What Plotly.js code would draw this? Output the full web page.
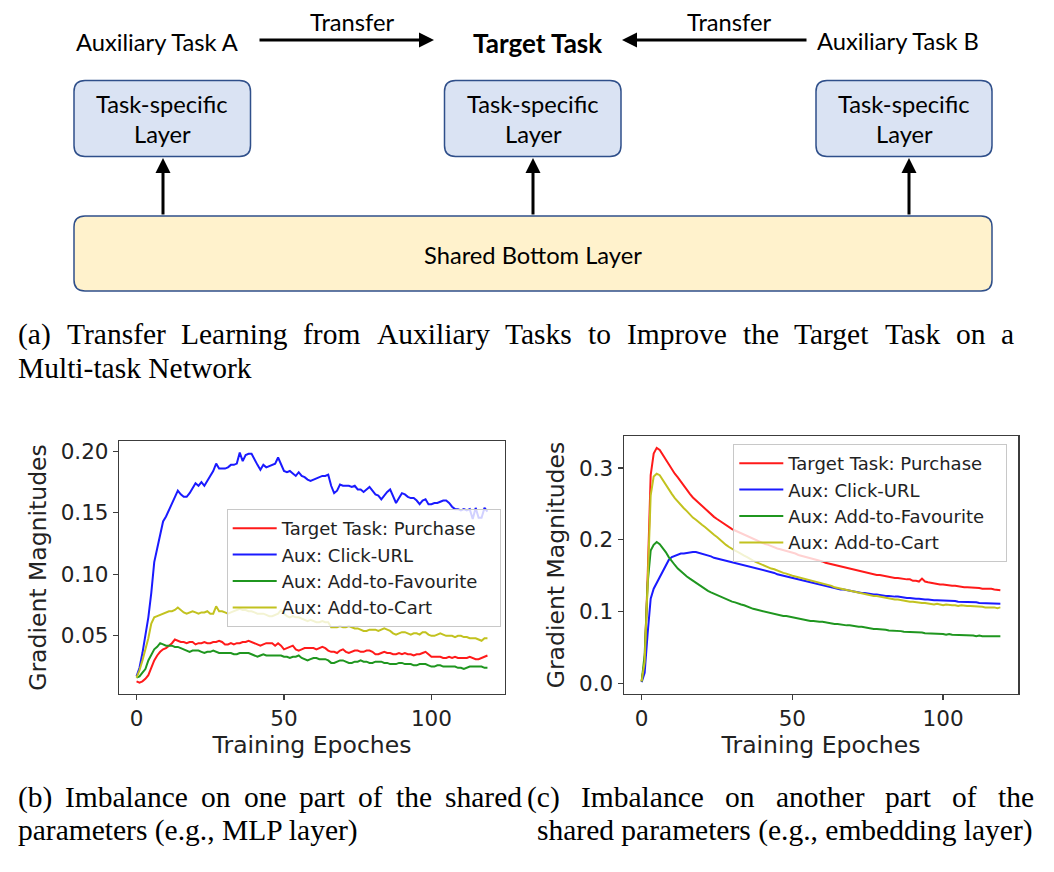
<!DOCTYPE html>
<html><head><meta charset="utf-8">
<script src="https://cdn.plot.ly/plotly-3.0.1.min.js"></script>
<style>html,body{margin:0;padding:0;background:#fff}#chart{width:1054px;height:872px}</style>
</head><body><div id="chart"></div>
<script>
// ---------------- DATA ----------------
const epochs = Array.from({length:120}, (_, i) => i);
const seriesNames = ['Target Task: Purchase', 'Aux: Click-URL', 'Aux: Add-to-Favourite', 'Aux: Add-to-Cart'];

// (b) MLP layer
const mlpPurchase = [0.013,0.012,0.013,0.015,0.018,0.024,0.030,0.034,0.037,0.039,
 0.040,0.042,0.044,0.047,0.046,0.045,0.045,0.044,0.045,0.045,
 0.043,0.044,0.044,0.045,0.044,0.044,0.045,0.045,0.046,0.045,
 0.043,0.043,0.044,0.043,0.044,0.044,0.045,0.045,0.046,0.045,
 0.044,0.043,0.042,0.043,0.044,0.044,0.044,0.042,0.044,0.042,
 0.039,0.040,0.041,0.042,0.039,0.038,0.039,0.040,0.040,0.040,
 0.040,0.039,0.040,0.041,0.040,0.038,0.037,0.037,0.036,0.038,
 0.039,0.037,0.036,0.037,0.038,0.038,0.037,0.037,0.038,0.038,
 0.037,0.035,0.035,0.036,0.037,0.036,0.036,0.035,0.035,0.036,
 0.035,0.036,0.035,0.035,0.034,0.035,0.035,0.036,0.037,0.035,
 0.033,0.033,0.033,0.033,0.032,0.032,0.033,0.032,0.033,0.032,
 0.032,0.032,0.032,0.033,0.032,0.031,0.031,0.032,0.033,0.034];
const mlpClickURL = [0.017,0.024,0.036,0.050,0.065,0.085,0.110,0.121,0.131,0.143,
 0.147,0.152,0.158,0.163,0.168,0.165,0.163,0.163,0.166,0.170,
 0.174,0.172,0.175,0.172,0.176,0.180,0.184,0.190,0.186,0.186,
 0.186,0.187,0.189,0.189,0.190,0.199,0.192,0.197,0.198,0.198,
 0.193,0.189,0.185,0.189,0.187,0.188,0.189,0.190,0.195,0.189,
 0.184,0.183,0.184,0.182,0.180,0.183,0.180,0.179,0.177,0.176,
 0.177,0.178,0.179,0.180,0.180,0.181,0.172,0.166,0.168,0.173,
 0.172,0.172,0.172,0.171,0.172,0.169,0.169,0.167,0.169,0.171,
 0.168,0.165,0.164,0.161,0.164,0.167,0.169,0.163,0.158,0.162,
 0.166,0.165,0.163,0.162,0.162,0.160,0.157,0.160,0.161,0.157,
 0.157,0.158,0.158,0.159,0.160,0.160,0.158,0.155,0.153,0.153,
 0.152,0.153,0.152,0.153,0.145,0.154,0.146,0.146,0.154,0.151];
const mlpFavourite = [0.016,0.017,0.020,0.023,0.030,0.035,0.039,0.041,0.044,0.043,
 0.042,0.042,0.042,0.041,0.041,0.040,0.039,0.038,0.037,0.038,
 0.038,0.038,0.037,0.036,0.037,0.037,0.038,0.037,0.036,0.036,
 0.036,0.036,0.036,0.035,0.035,0.036,0.036,0.036,0.036,0.035,
 0.034,0.033,0.034,0.035,0.034,0.034,0.034,0.034,0.034,0.034,
 0.033,0.033,0.032,0.033,0.033,0.034,0.032,0.031,0.030,0.031,
 0.032,0.032,0.031,0.031,0.031,0.030,0.028,0.028,0.029,0.030,
 0.030,0.029,0.028,0.028,0.029,0.029,0.030,0.029,0.029,0.028,
 0.028,0.029,0.029,0.029,0.028,0.028,0.027,0.027,0.027,0.028,
 0.028,0.027,0.027,0.027,0.026,0.026,0.027,0.027,0.027,0.026,
 0.025,0.025,0.026,0.026,0.025,0.025,0.025,0.025,0.025,0.024,
 0.024,0.023,0.024,0.025,0.025,0.025,0.025,0.025,0.024,0.024];
const mlpCart = [0.016,0.022,0.030,0.038,0.048,0.060,0.065,0.066,0.067,0.068,
 0.069,0.070,0.070,0.071,0.073,0.071,0.069,0.068,0.069,0.070,
 0.069,0.068,0.069,0.069,0.070,0.068,0.068,0.074,0.070,0.070,
 0.069,0.068,0.069,0.070,0.071,0.072,0.071,0.071,0.070,0.070,
 0.069,0.068,0.068,0.068,0.067,0.066,0.066,0.067,0.068,0.071,
 0.068,0.066,0.065,0.066,0.065,0.065,0.064,0.063,0.062,0.063,
 0.062,0.061,0.061,0.062,0.061,0.061,0.057,0.057,0.057,0.058,
 0.057,0.057,0.058,0.057,0.056,0.056,0.055,0.054,0.054,0.055,
 0.055,0.055,0.054,0.055,0.056,0.055,0.054,0.052,0.051,0.052,
 0.053,0.053,0.052,0.051,0.052,0.052,0.051,0.053,0.053,0.051,
 0.050,0.050,0.051,0.052,0.051,0.050,0.050,0.050,0.049,0.050,
 0.050,0.049,0.049,0.048,0.048,0.048,0.047,0.046,0.048,0.048];

// (c) embedding layer
const embPurchase = [0.003,0.030,0.150,0.290,0.320,0.328,0.325,0.318,0.311,0.305,
 0.298,0.292,0.287,0.281,0.276,0.270,0.264,0.259,0.255,0.251,
 0.248,0.244,0.240,0.236,0.232,0.229,0.226,0.223,0.221,0.218,
 0.215,0.213,0.211,0.209,0.207,0.205,0.203,0.201,0.199,0.197,
 0.196,0.194,0.193,0.191,0.190,0.188,0.187,0.186,0.184,0.183,
 0.182,0.181,0.179,0.178,0.177,0.176,0.175,0.173,0.172,0.171,
 0.170,0.168,0.167,0.166,0.164,0.163,0.162,0.161,0.160,0.159,
 0.158,0.157,0.156,0.155,0.154,0.153,0.153,0.152,0.151,0.151,
 0.150,0.149,0.148,0.148,0.147,0.147,0.146,0.146,0.145,0.145,
 0.143,0.143,0.142,0.146,0.142,0.141,0.140,0.139,0.139,0.138,
 0.138,0.137,0.137,0.136,0.136,0.135,0.135,0.134,0.134,0.134,
 0.133,0.133,0.133,0.132,0.132,0.133,0.132,0.131,0.131,0.130];
const embClickURL = [0.002,0.015,0.070,0.118,0.132,0.140,0.148,0.158,0.166,0.172,
 0.176,0.178,0.180,0.181,0.181,0.182,0.182,0.183,0.183,0.182,
 0.181,0.180,0.178,0.177,0.175,0.174,0.172,0.171,0.170,0.169,
 0.168,0.168,0.167,0.166,0.165,0.164,0.163,0.162,0.161,0.160,
 0.159,0.157,0.156,0.155,0.154,0.152,0.151,0.150,0.148,0.147,
 0.146,0.145,0.144,0.143,0.142,0.141,0.140,0.139,0.138,0.137,
 0.137,0.136,0.135,0.134,0.133,0.132,0.131,0.131,0.130,0.129,
 0.128,0.128,0.127,0.126,0.126,0.125,0.125,0.124,0.124,0.123,
 0.123,0.122,0.122,0.121,0.121,0.121,0.120,0.120,0.119,0.119,
 0.118,0.118,0.118,0.117,0.117,0.117,0.116,0.116,0.116,0.116,
 0.115,0.115,0.115,0.115,0.115,0.114,0.114,0.114,0.114,0.113,
 0.113,0.113,0.112,0.112,0.112,0.112,0.111,0.111,0.111,0.111];
const embFavourite = [0.003,0.040,0.140,0.185,0.193,0.197,0.194,0.189,0.183,0.176,
 0.170,0.165,0.160,0.156,0.152,0.149,0.146,0.143,0.140,0.137,
 0.134,0.132,0.129,0.127,0.125,0.123,0.121,0.119,0.117,0.116,
 0.114,0.113,0.111,0.110,0.109,0.107,0.106,0.104,0.103,0.102,
 0.101,0.099,0.098,0.097,0.097,0.096,0.095,0.094,0.094,0.093,
 0.092,0.092,0.091,0.090,0.089,0.088,0.087,0.087,0.086,0.086,
 0.086,0.085,0.085,0.084,0.083,0.083,0.082,0.082,0.081,0.081,
 0.080,0.080,0.079,0.079,0.078,0.077,0.077,0.076,0.076,0.076,
 0.075,0.075,0.074,0.074,0.073,0.073,0.073,0.072,0.072,0.072,
 0.071,0.071,0.071,0.071,0.070,0.070,0.070,0.070,0.069,0.069,
 0.069,0.068,0.069,0.068,0.068,0.068,0.067,0.068,0.067,0.067,
 0.067,0.066,0.067,0.066,0.066,0.067,0.066,0.066,0.066,0.066];
const embCart = [0.003,0.030,0.140,0.262,0.288,0.292,0.290,0.283,0.276,0.270,
 0.264,0.258,0.253,0.249,0.244,0.240,0.235,0.231,0.228,0.224,
 0.221,0.218,0.214,0.211,0.207,0.204,0.200,0.196,0.193,0.190,
 0.187,0.185,0.183,0.180,0.178,0.176,0.173,0.171,0.169,0.167,
 0.165,0.163,0.162,0.160,0.159,0.157,0.155,0.154,0.153,0.151,
 0.150,0.149,0.148,0.147,0.146,0.145,0.144,0.143,0.141,0.140,
 0.139,0.138,0.137,0.136,0.134,0.133,0.132,0.131,0.130,0.129,
 0.128,0.127,0.126,0.125,0.125,0.124,0.123,0.122,0.122,0.121,
 0.120,0.119,0.118,0.118,0.117,0.117,0.116,0.115,0.115,0.114,
 0.114,0.113,0.113,0.112,0.112,0.111,0.111,0.110,0.111,0.110,
 0.109,0.110,0.109,0.109,0.109,0.108,0.109,0.108,0.108,0.108,
 0.108,0.107,0.107,0.107,0.106,0.106,0.107,0.106,0.105,0.106];

const xTicks = [0, 50, 100];
const yTicksB = [0.05, 0.10, 0.15, 0.20];
const yTicksC = [0.0, 0.1, 0.2, 0.3];
const xTitle = 'Training Epoches';
const yTitle = 'Gradient Magnitudes';

const diagramTexts = {auxA:'Auxiliary Task A', auxB:'Auxiliary Task B', target:'Target Task', transfer:'Transfer', tsl1:'Task-specific', tsl2:'Layer', shared:'Shared Bottom Layer'};
const captionA = ['(a) Transfer Learning from Auxiliary Tasks to Improve the Target Task on a', 'Multi-task Network'];
const captionB = ['(b) Imbalance on one part of the shared', 'parameters (e.g., MLP layer)'];
const captionC = ['(c) Imbalance on another part of the', 'shared parameters (e.g., embedding layer)'];

// ---------------- HELPERS ----------------
const W = 1054, H = 872;
const X = p => p / W;
const Y = p => 1 - p / H;
const cv = document.createElement('canvas').getContext('2d');
function measure(t, font){ cv.font = font; return cv.measureText(t).width; }

const colors = ['#ff1a1a', '#1a1aff', '#1f961f', '#c2c21f'];
const serif = 'Liberation Serif';
const sans = 'Lato';
const PAD = '\u00a0\u00a0\u00a0'; // right padding inside legend box (matplotlib legends are wider)

const boxB = [119, 505, 441, 694];
const boxC = [623.7, 1018.3, 436, 694];

const capSize = (100*340/measure(captionB[1], `100px "${serif}"`) + 100*497/measure(captionC[1], `100px "${serif}"`))/2;
const diaSize = 100*218/measure(diagramTexts.shared, `100px ${sans}`);
const tgtSize = 100*130/measure(diagramTexts.target, `bold 100px ${sans}`);

const annotations = [];
function txt(t, xp, yp, size, opts){
  annotations.push(Object.assign({text:t, x:X(xp), y:Y(yp), xref:'paper', yref:'paper', showarrow:false,
    xanchor:'center', yanchor:'middle', font:{family:sans, size:size, color:'#000'}}, opts||{}));
}
function justified(line, x0, x1, yp){
  const words = line.split(' ');
  const f = `${capSize}px "${serif}"`;
  const ws = words.map(w => measure(w, f));
  const gap = (x1 - x0 - ws.reduce((a,b)=>a+b,0)) / (words.length - 1);
  let x = x0;
  words.forEach((w,i) => { txt(w, x, yp, capSize, {xanchor:'left', font:{family:serif, size:capSize, color:'#000'}}); x += ws[i] + gap; });
}
function plain(line, x0, yp){ txt(line, x0, yp, capSize, {xanchor:'left', font:{family:serif, size:capSize, color:'#000'}}); }
function arrow(hx, hy, tx, ty){
  annotations.push({x:X(hx), y:Y(hy), xref:'paper', yref:'paper', text:'', showarrow:true,
    ax: tx-hx, ay: ty-hy, arrowhead:2, arrowsize:1, arrowwidth:3, arrowcolor:'#000', standoff:0, startstandoff:0});
}
function rrPath(a, b, t, u, rx, ry){
  return `M ${a+rx},${t} L ${b-rx},${t} Q ${b},${t} ${b},${t-ry} L ${b},${u+ry} Q ${b},${u} ${b-rx},${u} L ${a+rx},${u} Q ${a},${u} ${a},${u+ry} L ${a},${t-ry} Q ${a},${t} ${a+rx},${t} Z`;
}
function roundRect(x0, y0, x1, y1, r, fill, line){
  return {type:'path', xref:'paper', yref:'paper', path:rrPath(X(x0), X(x1), Y(y0), Y(y1), r/W, r/H),
    fillcolor:fill, line:{color:line, width:1.5}, layer:'below'};
}

// ---------------- DIAGRAM ----------------
const shapes = [
  roundRect(74, 80.5, 250.5, 156.5, 11, '#dae3f3', '#2f4f8a'),
  roundRect(444.5, 80.5, 621, 156.5, 11, '#dae3f3', '#2f4f8a'),
  roundRect(816, 80.5, 992, 156.5, 11, '#dae3f3', '#2f4f8a'),
  roundRect(74, 216, 992, 291, 11, '#fff2cc', '#2f4f8a')
];
txt(diagramTexts.auxA, 157, 42, diaSize);
txt(diagramTexts.transfer, 352, 22, diaSize);
txt(diagramTexts.target, 538, 43, tgtSize, {font:{family:sans, size:tgtSize, color:'#000', weight:'bold'}});
txt(diagramTexts.transfer, 729, 22, diaSize);
txt(diagramTexts.auxB, 898, 41, diaSize);
[162, 533, 904].forEach(cx => { txt(diagramTexts.tsl1, cx, 104, diaSize); txt(diagramTexts.tsl2, cx, 134, diaSize); });
txt(diagramTexts.shared, 533, 255, diaSize);
arrow(434, 40, 258, 40);
arrow(622, 40, 808, 40);
arrow(163, 158, 163, 216);
arrow(533, 158, 533, 216);
arrow(909, 158, 909, 216);

// ---------------- CAPTIONS ----------------
justified(captionA[0], 16, 1012, 334);
plain(captionA[1], 16, 368);
justified(captionB[0], 16, 520, 797);
plain(captionB[1], 16, 830);
justified(captionC[0], 525, 1032, 797);
plain(captionC[1], 535, 830);

// ---------------- CHARTS ----------------
const seriesB = [mlpPurchase, mlpClickURL, mlpFavourite, mlpCart];
const seriesC = [embPurchase, embClickURL, embFavourite, embCart];
const traces = [];
seriesB.forEach((s,i) => traces.push({x:epochs, y:s, xaxis:'x', yaxis:'y', type:'scatter', mode:'lines', name:seriesNames[i] + PAD, legend:'legend', line:{color:colors[i], width:2}, hoverinfo:'skip'}));
seriesC.forEach((s,i) => traces.push({x:epochs, y:s, xaxis:'x2', yaxis:'y2', type:'scatter', mode:'lines', name:seriesNames[i] + PAD, legend:'legend2', line:{color:colors[i], width:2}, hoverinfo:'skip'}));

const axBase = {showline:true, mirror:true, linecolor:'#3c3c3c', linewidth:1.2, ticks:'outside', ticklen:5, tickwidth:1.2, tickcolor:'#3c3c3c',
  showgrid:false, zeroline:false, automargin:false, fixedrange:true,
  tickfont:{family:'DejaVu Sans', size:21.5, color:'#222'}};
const titleFont = {family:'DejaVu Sans', size:23.5, color:'#222'};
const legBase = {xanchor:'left', yanchor:'top', bgcolor:'rgba(255,255,255,0.8)', bordercolor:'#c8c8c8', borderwidth:1,
  font:{family:'DejaVu Sans', size:18, color:'#222'}, itemwidth:44, traceorder:'normal'};

const layout = {
  width:W, height:H, margin:{l:0, r:0, t:0, b:0}, paper_bgcolor:'#ffffff', plot_bgcolor:'#ffffff', showlegend:true,
  xaxis:Object.assign({}, axBase, {domain:[X(boxB[0]), X(boxB[1])], range:[-5.95, 124.95], tickvals:xTicks, anchor:'y', title:{text:xTitle, font:titleFont, standoff:0}}),
  yaxis:Object.assign({}, axBase, {domain:[Y(boxB[3]), Y(boxB[2])], range:[0.0027, 0.2084], tickvals:yTicksB, tickformat:'.2f', anchor:'x', title:{text:yTitle, font:titleFont, standoff:7}}),
  xaxis2:Object.assign({}, axBase, {domain:[X(boxC[0]), X(boxC[1])], range:[-5.95, 124.95], tickvals:xTicks, anchor:'y2', title:{text:xTitle, font:titleFont, standoff:0}}),
  yaxis2:Object.assign({}, axBase, {domain:[Y(boxC[3]), Y(boxC[2])], range:[-0.0145, 0.3445], tickvals:yTicksC, tickformat:'.1f', anchor:'x2', title:{text:yTitle, font:titleFont, standoff:7}}),
  legend:Object.assign({}, legBase, {x:X(226.7), y:Y(509)}),
  legend2:Object.assign({}, legBase, {x:X(733.3), y:Y(444)}),
  shapes, annotations
};
Plotly.newPlot('chart', traces, layout, {displayModeBar:false, staticPlot:true});
</script></body></html>
